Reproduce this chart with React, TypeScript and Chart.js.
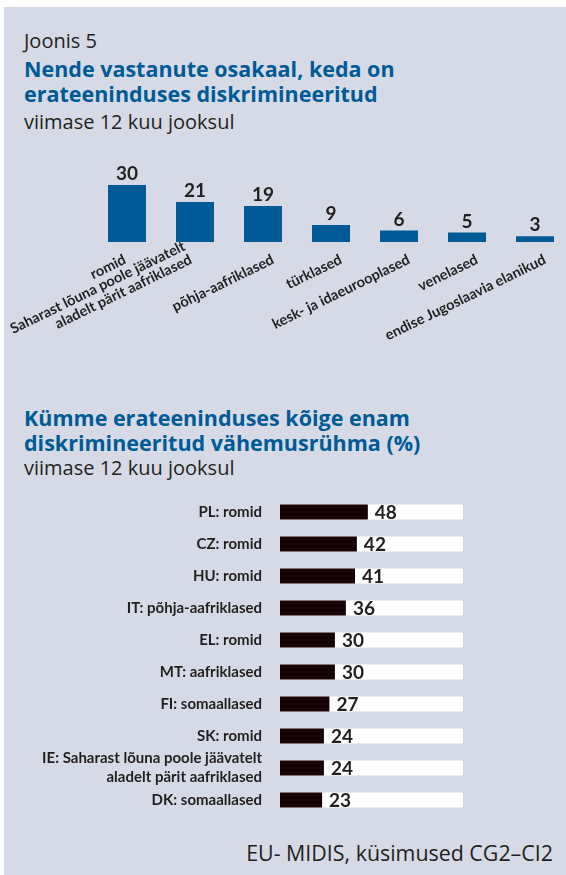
import React, { useEffect, useRef } from "react";
import { Chart, registerables } from "chart.js";

Chart.register(...registerables);

// ---- data ----
const groupLabels: (string | string[])[] = [
  "romid",
  ["Saharast lõuna poole jäävatelt", "aladelt pärit aafriklased"],
  "põhja-aafriklased",
  "türklased",
  "kesk- ja idaeurooplased",
  "venelased",
  "endise Jugoslaavia elanikud",
];
const groupValues = [30, 21, 19, 9, 6, 5, 3];

const topLabels: (string | string[])[] = [
  "PL: romid",
  "CZ: romid",
  "HU: romid",
  "IT: põhja-aafriklased",
  "EL: romid",
  "MT: aafriklased",
  "FI: somaallased",
  "SK: romid",
  ["IE: Saharast lõuna poole jäävatelt", "aladelt pärit aafriklased"],
  "DK: somaallased",
];
const topValues = [48, 42, 41, 36, 30, 30, 27, 24, 24, 23];
const percentMax = 100;

// ---- styles ----
const BLUE = "#005a96";
const TEXT = "#231f20";
const DARK = "#160204";
const PANEL = "#d5dae6";
const LATO = "Lato, 'Open Sans', sans-serif";
const OPEN = "'Open Sans', Lato, sans-serif";
// horizontal nudge of each rotated category label relative to its tick (style only)
const labelShift = [0, -2, 12, 12, 12, 12, 12];

const topValuePlugin = {
  id: "topValues",
  afterDatasetsDraw(chart: any) {
    const ctx = chart.ctx;
    const meta = chart.getDatasetMeta(0);
    ctx.save();
    ctx.fillStyle = TEXT;
    ctx.font = `bold 19px ${LATO}`;
    ctx.textAlign = "center";
    ctx.textBaseline = "alphabetic";
    meta.data.forEach((bar: any, i: number) => {
      ctx.fillText(String(groupValues[i]), bar.x, bar.y - 5);
    });
    ctx.restore();
  },
};

const rotatedLabelPlugin = {
  id: "rotatedLabels",
  afterDraw(chart: any) {
    const ctx = chart.ctx;
    const xs = chart.scales.x;
    const angle = (-26 * Math.PI) / 180;
    ctx.save();
    ctx.fillStyle = TEXT;
    ctx.font = `bold 14.5px ${LATO}`;
    ctx.textAlign = "right";
    ctx.textBaseline = "alphabetic";
    groupLabels.forEach((lab, i) => {
      const lines = Array.isArray(lab) ? lab : [lab];
      const x = xs.getPixelForValue(i) + labelShift[i];
      ctx.save();
      ctx.translate(x, xs.top + 21);
      ctx.rotate(angle);
      lines.forEach((ln, j) => {
        ctx.fillText(ln, 0, (j - (lines.length - 1)) * 15);
      });
      ctx.restore();
    });
    ctx.restore();
  },
};

const rowValuePlugin = {
  id: "rowValues",
  afterDatasetsDraw(chart: any) {
    const ctx = chart.ctx;
    const meta = chart.getDatasetMeta(0);
    ctx.save();
    ctx.fillStyle = TEXT;
    ctx.font = `bold 19px ${LATO}`;
    ctx.textAlign = "left";
    ctx.textBaseline = "middle";
    meta.data.forEach((bar: any, i: number) => {
      ctx.fillText(String(topValues[i]), bar.x + 7, bar.y + 1);
    });
    ctx.restore();
  },
};

function GroupChart() {
  const ref = useRef<HTMLCanvasElement>(null);
  useEffect(() => {
    const chart = new Chart(ref.current as HTMLCanvasElement, {
      type: "bar",
      data: {
        labels: groupLabels as any,
        datasets: [
          {
            data: groupValues,
            backgroundColor: BLUE,
            barPercentage: 38 / 68,
            categoryPercentage: 1,
          },
        ],
      },
      options: {
        animation: false,
        responsive: false,
        maintainAspectRatio: false,
        layout: { padding: { left: 93, right: 1, top: 26, bottom: 0 } },
        plugins: { legend: { display: false }, tooltip: { enabled: false } },
        scales: {
          x: {
            grid: { display: false, drawTicks: false },
            border: { display: false },
            ticks: { display: false },
            afterFit: (s: any) => {
              s.height = 128;
              s.paddingLeft = 0;
              s.paddingRight = 0;
            },
          },
          y: { display: false, min: 0, max: 40 },
        },
      } as any,
      plugins: [topValuePlugin, rotatedLabelPlugin],
    });
    return () => chart.destroy();
  }, []);
  return <canvas ref={ref} width={570} height={230} style={{ display: "block" }} />;
}

function RankChart() {
  const ref = useRef<HTMLCanvasElement>(null);
  useEffect(() => {
    const chart = new Chart(ref.current as HTMLCanvasElement, {
      type: "bar",
      data: {
        labels: topLabels as any,
        datasets: [
          {
            data: topValues,
            backgroundColor: DARK,
            grouped: false,
            barPercentage: 15 / 32,
            categoryPercentage: 1,
            order: 0,
          },
          {
            data: topLabels.map(() => percentMax),
            backgroundColor: "#ffffff",
            grouped: false,
            barPercentage: 15 / 32,
            categoryPercentage: 1,
            order: 1,
          },
        ],
      },
      options: {
        indexAxis: "y",
        animation: false,
        responsive: false,
        maintainAspectRatio: false,
        layout: { padding: { left: 0, right: 103, top: 6, bottom: 4 } },
        plugins: { legend: { display: false }, tooltip: { enabled: false } },
        scales: {
          x: { display: false, min: 0, max: percentMax },
          y: {
            grid: { display: false, drawTicks: false },
            border: { display: false },
            ticks: {
              autoSkip: false,
              padding: 18,
              color: TEXT,
              font: { family: LATO, weight: "bold", size: 15, lineHeight: 1.25 },
            },
            afterFit: (s: any) => {
              s.width = 280;
              s.paddingTop = 0;
              s.paddingBottom = 0;
            },
          },
        },
      } as any,
      plugins: [rowValuePlugin],
    });
    return () => chart.destroy();
  }, []);
  return <canvas ref={ref} width={566} height={330} style={{ display: "block" }} />;
}

const abs = (top: number, extra: React.CSSProperties = {}): React.CSSProperties => ({
  position: "absolute",
  top,
  left: 24,
  fontFamily: OPEN,
  whiteSpace: "nowrap",
  ...extra,
});

export default function App() {
  return (
    <div
      style={{
        position: "absolute",
        left: 0,
        top: 0,
        width: 566,
        height: 875,
        background: "#ffffff",
        overflow: "hidden",
      }}
    >
      <div style={{ position: "absolute", left: 4, top: 7, right: 0, bottom: 0, background: PANEL }} />
      <div style={abs(29, { fontSize: 20, lineHeight: "24px", color: TEXT })}>Joonis 5</div>
      <div style={abs(56, { fontSize: 21.5, lineHeight: "25px", color: BLUE, fontWeight: 700 })}>
        Nende vastanute osakaal, keda on
        <br />
        erateeninduses diskrimineeritud
      </div>
      <div style={abs(110, { fontSize: 20, lineHeight: "24px", color: TEXT })}>viimase 12 kuu jooksul</div>

      <div style={{ position: "absolute", left: 0, top: 140, width: 566, height: 230, overflow: "hidden" }}>
        <GroupChart />
      </div>

      <div style={abs(405, { fontSize: 21.5, lineHeight: "25px", color: BLUE, fontWeight: 700 })}>
        Kümme erateeninduses kõige enam
        <br />
        diskrimineeritud vähemusrühma (%)
      </div>
      <div style={abs(456, { fontSize: 20, lineHeight: "24px", color: TEXT })}>viimase 12 kuu jooksul</div>

      <div style={{ position: "absolute", left: 0, top: 490, width: 566, height: 330 }}>
        <RankChart />
      </div>

      <div
        style={{
          position: "absolute",
          top: 841,
          right: 13,
          fontFamily: OPEN,
          fontSize: 21.4,
          lineHeight: "24px",
          color: TEXT,
          whiteSpace: "nowrap",
        }}
      >
        EU- MIDIS, küsimused CG2–CI2
      </div>
    </div>
  );
}
